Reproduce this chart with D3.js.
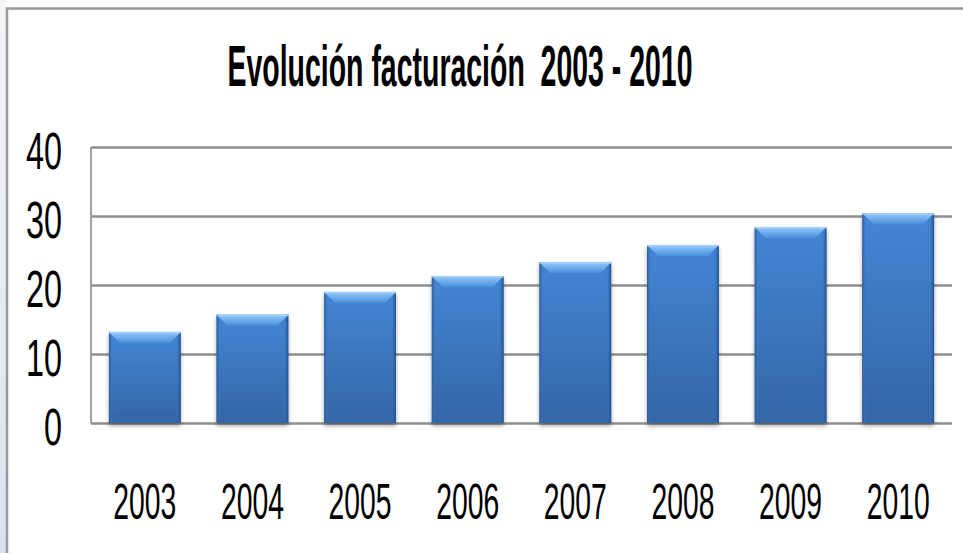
<!DOCTYPE html>
<html>
<head>
<meta charset="utf-8">
<script src="https://cdn.jsdelivr.net/npm/d3@7"></script>
<style>
  body { margin: 0; background: #fff; }
  svg { display: block; }
</style>
</head>
<body>
<div id="chart"></div>
<script>
// datos
var years = ['2003', '2004', '2005', '2006', '2007', '2008', '2009', '2010']
var facturacion = [13.2, 15.7, 19.0, 21.3, 23.3, 25.8, 28.4, 30.4]
var yTicks = [0, 10, 20, 30, 40]
var title = 'Evolución facturación  2003 - 2010'

var W = 963, H = 553
var margin = { top: 147, right: 11, bottom: 130, left: 91 }
var width = W - margin.left - margin.right
var height = H - margin.top - margin.bottom
var font = '"Liberation Sans Narrow", "Arial Narrow", "Liberation Sans", Arial, sans-serif'

var svg = d3.select('#chart').append('svg')
  .attr('width', W)
  .attr('height', H)

var defs = svg.append('defs')

var bg = defs.append('linearGradient').attr('id', 'side').attr('x1', 0).attr('x2', 0).attr('y1', 0).attr('y2', 1)
bg.append('stop').attr('offset', '0%').attr('stop-color', '#f2f5fa')
bg.append('stop').attr('offset', '100%').attr('stop-color', '#d9e3f0')

var bodyGrad = defs.append('linearGradient').attr('id', 'barBody').attr('x1', 0).attr('x2', 0).attr('y1', 0).attr('y2', 1)
bodyGrad.append('stop').attr('offset', '0%').attr('stop-color', '#4486d5')
bodyGrad.append('stop').attr('offset', '100%').attr('stop-color', '#3465a6')

var topGrad = defs.append('linearGradient').attr('id', 'barTop').attr('x1', 0).attr('x2', 0).attr('y1', 0).attr('y2', 1)
topGrad.append('stop').attr('offset', '0%').attr('stop-color', '#93cbfb')
topGrad.append('stop').attr('offset', '100%').attr('stop-color', '#4b8edb')

var sideL = defs.append('linearGradient').attr('id', 'barLeft').attr('x1', 0).attr('x2', 1)
sideL.append('stop').attr('offset', '0%').attr('stop-color', '#2c5a97')
sideL.append('stop').attr('offset', '100%').attr('stop-color', '#3f7fcb').attr('stop-opacity', 0)

var sideR = defs.append('linearGradient').attr('id', 'barRight').attr('x1', 0).attr('x2', 1)
sideR.append('stop').attr('offset', '0%').attr('stop-color', '#3f7fcb').attr('stop-opacity', 0)
sideR.append('stop').attr('offset', '100%').attr('stop-color', '#214c85')

var shadow = defs.append('filter').attr('id', 'shadow').attr('x', '-20%').attr('y', '-10%').attr('width', '140%').attr('height', '130%')
shadow.append('feDropShadow').attr('dx', 0).attr('dy', 3).attr('stdDeviation', 2)
  .attr('flood-color', '#000').attr('flood-opacity', 0.35)

// fondo lateral y marco
svg.append('rect').attr('x', 0).attr('y', 0).attr('width', 6).attr('height', H).attr('fill', 'url(#side)')
svg.append('path')
  .attr('d', 'M7,' + H + 'V8.5H' + W)
  .attr('fill', 'none')
  .attr('stroke', '#9a9a9a')
  .attr('stroke-width', 2.5)

svg.append('text')
  .attr('x', 460)
  .attr('y', 86)
  .attr('text-anchor', 'middle')
  .attr('textLength', 465)
  .attr('lengthAdjust', 'spacingAndGlyphs')
  .style('font-family', font)
  .style('font-weight', 'bold')
  .style('font-size', '57px')
  .style('white-space', 'pre')
  .text(title)

var g = svg.append('g').attr('transform', 'translate(' + margin.left + ',' + margin.top + ')')

var x = d3.scaleBand()
  .domain(years)
  .range([0, width])
  .paddingInner(1 / 3)
  .paddingOuter(1 / 6)

var y = d3.scaleLinear().domain([0, 40]).range([height, 0])

// lineas de division
g.append('g')
  .call(d3.axisLeft(y).tickValues(yTicks).tickSize(-width).tickFormat(''))
  .call(function (a) {
    a.select('.domain').remove()
    a.selectAll('line').attr('stroke', '#8e8e8e').attr('stroke-width', 2.5)
  })

g.append('line')
  .attr('x1', 0).attr('x2', 0).attr('y1', 0).attr('y2', height)
  .attr('stroke', '#a0a0a0').attr('stroke-width', 2)

// etiquetas eje y
g.append('g')
  .call(d3.axisLeft(y).tickValues(yTicks).tickSize(0).tickPadding(29))
  .call(function (a) {
    a.select('.domain').remove()
    a.selectAll('text')
      .attr('dy', '0.42em')
      .attr('textLength', function (d) { return String(d).length * 18 })
      .attr('lengthAdjust', 'spacingAndGlyphs')
      .style('font-family', font)
      .style('font-size', '52px')
      .style('fill', '#000')
  })

// etiquetas eje x
g.append('g')
  .attr('transform', 'translate(0,' + height + ')')
  .call(d3.axisBottom(x).tickSize(0).tickPadding(60))
  .call(function (a) {
    a.select('.domain').remove()
    a.selectAll('text')
      .attr('dy', '0.71em')
      .attr('textLength', 63)
      .attr('lengthAdjust', 'spacingAndGlyphs')
      .style('font-family', font)
      .style('font-size', '50px')
      .style('fill', '#000')
  })

var bars = g.selectAll('.bar')
  .data(years.map(function (k, i) { return { key: k, value: facturacion[i] } }))
  .enter()
  .append('g')
  .attr('class', 'bar')
  .attr('transform', function (d) { return 'translate(' + x(d.key) + ',' + y(d.value) + ')' })

var bw = x.bandwidth()
var bev = 11

bars.append('rect')
  .attr('width', bw)
  .attr('height', function (d) { return height - y(d.value) })
  .attr('fill', 'url(#barBody)')
  .attr('filter', 'url(#shadow)')

bars.append('rect')
  .attr('width', 4)
  .attr('height', function (d) { return height - y(d.value) })
  .attr('fill', 'url(#barLeft)')

bars.append('rect')
  .attr('x', bw - 5)
  .attr('width', 5)
  .attr('height', function (d) { return height - y(d.value) })
  .attr('fill', 'url(#barRight)')

bars.append('path')
  .attr('d', 'M0,0H' + bw + 'L' + (bw - bev) + ',' + bev + 'H' + bev + 'Z')
  .attr('fill', 'url(#barTop)')

bars.append('rect')
  .attr('width', bw)
  .attr('height', 1.5)
  .attr('fill', '#a9d3f7')
  .attr('opacity', 0.8)
</script>
</body>
</html>
